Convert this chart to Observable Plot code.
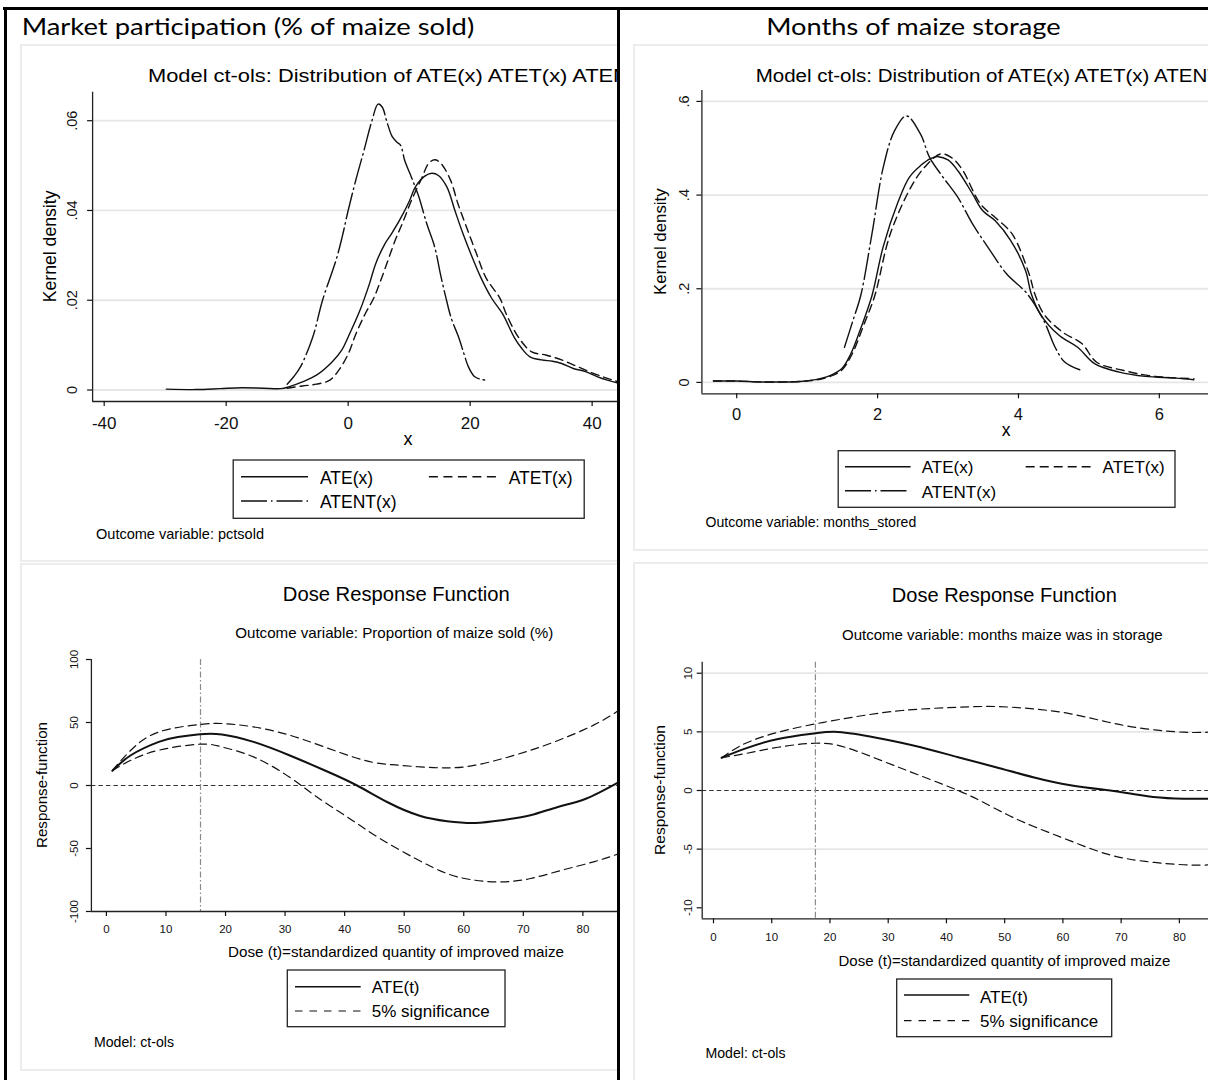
<!DOCTYPE html>
<html><head><meta charset="utf-8">
<script src="https://cdn.jsdelivr.net/npm/d3@7"></script>
<script src="https://cdn.jsdelivr.net/npm/@observablehq/plot@0.6"></script>
<style>
html,body{margin:0;padding:0;background:#fff;}
#page{position:relative;width:1208px;height:1080px;overflow:hidden;background:#fff;}
.col{position:absolute;top:0;height:1080px;overflow:hidden;}
.col svg{max-width:none !important;}
.bar{position:absolute;background:#000;}
</style></head><body><div id="page"></div>
<script>
// ---------- Data: top-left, kernel densities of ATE(x), ATET(x), ATENT(x) for pctsold ----------
const pctATE_x = [-29.8,-25,-21,-17.5,-14,-11,-9.75,-7.5,-5.2,-2.6,-1,0,1.95,3.5,4.5,6,7.1,8.5,10,11,12.5,13.7,14.8,16.2,17.5,18.8,20.2,21.7,23.5,25.3,27.2,28.5,29.8,31.7,33.5,35,36.9,38.9,40.8,42.5,44.4,47,50];
const pctATE_y = [0.0002,0.0001,0.0003,0.0005,0.0004,0.0003,0.0007,0.0018,0.0033,0.0063,0.0090,0.0118,0.0178,0.0237,0.0281,0.0325,0.0348,0.0380,0.0420,0.0452,0.0476,0.0483,0.0478,0.0452,0.0400,0.0349,0.0300,0.0252,0.0205,0.0170,0.0118,0.0092,0.0074,0.0067,0.0064,0.0059,0.0048,0.0041,0.0030,0.0022,0.0015,0.0009,0.0005];
const pctATET_x = [-10,-7.5,-5.2,-3,-1.5,0,1.3,2.8,4.2,5.5,7.7,9,10.3,12,13.2,14.2,15.2,16.8,18,19.4,21,22.6,24.9,25.9,27.9,30.1,32.4,35,37.6,40.2,42.5,44.4,47,50];
const pctATET_y = [0.0004,0.0009,0.0013,0.0022,0.0045,0.0080,0.0126,0.0170,0.0205,0.0250,0.0333,0.0375,0.0420,0.0470,0.0505,0.0513,0.0505,0.0467,0.0415,0.0363,0.0305,0.0250,0.0204,0.0170,0.0118,0.0085,0.0078,0.0067,0.0052,0.0037,0.0026,0.0018,0.0010,0.0005];
const pctATENT_x = [-10,-8.9,-7.8,-5.8,-4.2,-2,-1,0,1.3,2.6,3.9,4.9,5.6,6.3,7.2,8,8.6,9.3,10.2,11,11.6,12.9,14.2,15.1,16,16.9,18.1,19,19.7,20.7,21.7,22.6];
const pctATENT_y = [0.0013,0.003,0.0052,0.0118,0.0200,0.0289,0.034,0.040,0.047,0.0534,0.0600,0.0637,0.0630,0.0600,0.0565,0.0552,0.0545,0.051,0.048,0.0452,0.043,0.037,0.0318,0.026,0.0207,0.016,0.0118,0.008,0.0052,0.003,0.0024,0.0022];
const tlXTicks = [-40,-20,0,20,40], tlXLabels = ["-40","-20","0","20","40"];
const tlYTicks = [0,0.02,0.04,0.06], tlYLabels = ["0",".02",".04",".06"];

// ---------- Data: top-right, kernel densities for months_stored ----------
const msATE_x = [-0.33,0,0.37,0.9,1.12,1.33,1.49,1.62,1.76,1.92,2.08,2.29,2.45,2.61,2.75,2.86,3.0,3.14,3.35,3.49,3.67,3.89,4.10,4.18,4.31,4.58,4.84,5.08,5.43,5.80,6.23,6.49];
const msATE_y = [0.003,0.003,0.001,0.002,0.006,0.015,0.029,0.061,0.115,0.185,0.290,0.385,0.438,0.463,0.478,0.482,0.475,0.452,0.402,0.367,0.345,0.303,0.239,0.190,0.146,0.100,0.075,0.040,0.022,0.0128,0.0092,0.0058];
const msATET_x = [-0.33,0,0.37,0.9,1.12,1.33,1.49,1.63,1.81,1.96,2.18,2.50,2.70,2.90,3.05,3.20,3.46,3.67,3.91,4.15,4.23,4.36,4.63,4.90,5.11,5.48,5.91,6.49];
const msATET_y = [0.003,0.003,0.001,0.002,0.005,0.013,0.026,0.058,0.125,0.185,0.317,0.424,0.465,0.488,0.480,0.455,0.381,0.352,0.317,0.232,0.190,0.146,0.107,0.083,0.043,0.026,0.0134,0.0079];
const msATENT_x = [1.53,1.65,1.76,1.92,2.08,2.24,2.41,2.61,2.74,2.93,3.14,3.35,3.57,3.83,4.12,4.36,4.52,4.66,4.87];
const msATENT_y = [0.075,0.132,0.185,0.317,0.459,0.537,0.569,0.530,0.480,0.438,0.395,0.338,0.288,0.232,0.190,0.132,0.075,0.043,0.027];
const trXTicks = [0,2,4,6], trXLabels = ["0","2","4","6"];
const trYTicks = [0,0.2,0.4,0.6], trYLabels = ["0",".2",".4",".6"];

// ---------- Data: bottom-left, dose response (proportion of maize sold) ----------
const drPctATE_t = [1.0,4.1,8.8,12,15.7,19.4,24.7,30.7,36.6,42,47.3,52.6,57.2,61.9,66.5,71.2,75.8,80.5,86.1];
const drPctATE_v = [11.6,24,34.6,38.5,40.7,40.5,34.6,24,12.1,0.2,-13.5,-24.0,-28.3,-29.7,-27.5,-23.6,-17,-10.5,2.9];
const drPctUp_t = [1.0,4.1,8.8,15.7,19.4,24.7,30.7,36.6,43.3,48,52.6,57.2,61.9,68.5,75.2,81.8,86.1];
const drPctUp_v = [12,28,42.5,48.4,49.2,46.5,40,30.6,20,16.5,14.8,14,16.1,24,34.6,47.9,59.8];
const drPctLo_t = [1.0,4.1,8.8,15.7,19.4,24.7,30.7,35.3,40.6,45.9,51.9,57.2,61.9,66.5,71.2,76.5,81.8,86.1];
const drPctLo_v = [12,20,28,32.8,30.6,22.7,6.8,-9,-25.5,-42,-58,-69.9,-75.2,-76.5,-73.8,-67.2,-60.6,-54];
const drPctRef = 15.8;
const blXTicks = [0,10,20,30,40,50,60,70,80], blXLabels = ["0","10","20","30","40","50","60","70","80"];
const blYTicks = [-100,-50,0,50,100], blYLabels = ["-100","-50","0","50","100"];

// ---------- Data: bottom-right, dose response (months in storage) ----------
const drMsATE_t = [1.4,5.3,11.1,17.5,22,29.1,35.6,42,48.5,54.9,61.3,67.8,71,75.5,80.7,84.9];
const drMsATE_v = [2.79,3.55,4.4,4.88,4.97,4.4,3.69,2.84,1.99,1.13,0.45,0.02,-0.22,-0.55,-0.7,-0.71];
const drMsUp_t = [1.4,5.3,11.1,17.5,23.9,32.4,42,48.5,54.9,61.3,67.8,74.2,80.7,84.9];
const drMsUp_v = [2.79,3.98,4.97,5.68,6.25,6.82,7.1,7.16,6.96,6.54,5.82,5.26,4.97,4.97];
const drMsLo_t = [1.4,5.3,11.1,17.5,22.6,29.1,35.6,42,45.9,50.4,54.9,61.3,67.8,74.2,80.7,84.9];
const drMsLo_v = [2.79,3.13,3.69,4.03,3.69,2.5,1.25,0,-0.9,-2.05,-3.05,-4.3,-5.45,-6.05,-6.33,-6.35];
const drMsRef = 17.5;
const brXTicks = [0,10,20,30,40,50,60,70,80], brXLabels = ["0","10","20","30","40","50","60","70","80"];
const brYTicks = [-10,-5,0,5,10], brYLabels = ["-10","-5","0","5","10"];
const brGrid = [-5,5,10];

// ---------- Helpers ----------
const FONT = "'Liberation Sans', Arial, Helvetica, sans-serif";
const TITLEFONT = "Lato, 'Open Sans', sans-serif";
const page = document.getElementById("page");
const rows = (xs, ys) => xs.map((x, i) => ({x, y: ys[i]}));
const lab = (ticks, labels) => { const m = new Map(ticks.map((t, i) => [t, labels[i]])); return d => m.get(d); };
const DASH = "8,5", DASHDOT = "26,4,1.5,4";

function makeCol(left, width) {
  const d = document.createElement("div");
  d.className = "col"; d.style.left = left + "px"; d.style.width = width + "px";
  page.appendChild(d); return d;
}
function put(container, node, left, top) {
  node.style.position = "absolute"; node.style.left = left + "px"; node.style.top = top + "px";
  node.style.maxWidth = "none";
  node.style.width = node.getAttribute("width") + "px";
  node.style.height = node.getAttribute("height") + "px";
  container.appendChild(node);
}
function bar(l, t, w, h) { const d = document.createElement("div"); d.className = "bar";
  Object.assign(d.style, {left: l + "px", top: t + "px", width: w + "px", height: h + "px"}); page.appendChild(d); }

function panel(o) {
  const marks = [
    ...(o.grid ? [Plot.ruleY(o.grid, {stroke: "#e6e6e6", strokeWidth: 1.8})] : []),
    ...o.marks,
    Plot.ruleX([o.xd[0]], {stroke: "#222", strokeWidth: 1.3}),
    Plot.ruleY([o.yd[0]], {stroke: "#222", strokeWidth: 1.3}),
    Plot.axisX({ticks: o.xt, tickFormat: lab(o.xt, o.xl), tickSize: 5, tickPadding: o.xp, fontSize: o.xf, label: null, strokeWidth: 1.2}),
    Plot.axisY({ticks: o.yt, tickFormat: lab(o.yt, o.yl), tickSize: 5, tickPadding: o.yp, tickRotate: -90, fontSize: o.yf, label: null, strokeWidth: 1.2})
  ];
  return Plot.plot({
    width: o.w, height: o.h, marginLeft: o.ml, marginRight: o.mr, marginTop: o.mt, marginBottom: o.mb,
    x: {domain: o.xd}, y: {domain: o.yd},
    style: {fontFamily: FONT, background: "transparent", color: "#111", overflow: "visible"},
    marks
  });
}
const ln = (xs, ys, o = {}) => Plot.line(rows(xs, ys), {x: "x", y: "y", stroke: "#111", strokeWidth: 1.4, curve: "catmull-rom", ...o});

function overlay(container, w) {
  const svg = d3.create("svg").attr("width", w).attr("height", 1080)
    .style("position", "absolute").style("left", "0px").style("top", "0px").style("overflow", "hidden");
  container.appendChild(svg.node()); return svg;
}
function T(svg, s, o) {
  const t = svg.append("text").text(s).attr("font-family", o.family || FONT).attr("font-size", o.size)
    .attr("fill", "#000").attr("text-anchor", o.anchor || "start");
  if (o.len) t.attr("textLength", o.len).attr("lengthAdjust", "spacingAndGlyphs");
  if (o.rotate) t.attr("transform", `translate(${o.x},${o.y}) rotate(${o.rotate})`);
  else t.attr("x", o.x).attr("y", o.y);
  return t;
}
function frame(svg, x, y, w, h) { svg.append("rect").attr("x", x).attr("y", y).attr("width", w).attr("height", h)
  .attr("fill", "none").attr("stroke", "#ececec").attr("stroke-width", 2); }
function box(svg, x0, y0, x1, y1) { svg.append("rect").attr("x", x0).attr("y", y0).attr("width", x1 - x0).attr("height", y1 - y0)
  .attr("fill", "none").attr("stroke", "#222").attr("stroke-width", 1.3); }
function sample(svg, x0, x1, y, dash, w = 1.4) { const l = svg.append("line").attr("x1", x0).attr("x2", x1).attr("y1", y).attr("y2", y)
  .attr("stroke", "#111").attr("stroke-width", w); if (dash) l.attr("stroke-dasharray", dash); }

// ---------- Columns ----------
const colL = makeCol(0, 617), colR = makeCol(620, 588);

// Top-left plot
put(colL, panel({
  w: 740, h: 400, ml: 92.1, mr: 16, mt: 46.7, mb: 44,
  xd: [-41.9, 61.7], yd: [-0.00256, 0.06635], grid: tlYTicks,
  xt: tlXTicks, xl: tlXLabels, xp: 10.6, xf: 17,
  yt: tlYTicks, yl: tlYLabels, yp: 11.1, yf: 14.5,
  marks: [
    ln(pctATE_x, pctATE_y),
    ln(pctATET_x, pctATET_y, {strokeDasharray: DASH}),
    ln(pctATENT_x, pctATENT_y, {strokeDasharray: DASHDOT})
  ]
}), 0, 45);

// Bottom-left plot
put(colL, panel({
  w: 720, h: 300, ml: 90.9, mr: 20.3, mt: 14, mb: 34,
  xd: [-2.52, 99.7], yd: [-100, 100],
  xt: blXTicks, xl: blXLabels, xp: 8.2, xf: 11.5,
  yt: blYTicks, yl: blYLabels, yp: 8.5, yf: 11.5,
  marks: [
    Plot.ruleY([0], {stroke: "#333", strokeWidth: 1.1, strokeDasharray: "4.5,3"}),
    Plot.ruleX([drPctRef], {stroke: "#8a8a8a", strokeWidth: 1.2, strokeDasharray: "6,2.5,1.5,2.5"}),
    ln(drPctUp_t, drPctUp_v, {strokeWidth: 1.2, strokeDasharray: DASH, curve: "natural"}),
    ln(drPctLo_t, drPctLo_v, {strokeWidth: 1.2, strokeDasharray: DASH, curve: "natural"}),
    ln(drPctATE_t, drPctATE_v, {strokeWidth: 2, curve: "natural"})
  ]
}), 0, 645);

// Top-right plot
put(colR, panel({
  w: 720, h: 400, ml: 81.4, mr: 29, mt: 45, mb: 51.7,
  xd: [-0.494, 8.16], yd: [-0.0243, 0.6233], grid: trYTicks,
  xt: trXTicks, xl: trXLabels, xp: 9.1, xf: 16.5,
  yt: trYTicks, yl: trYLabels, yp: 7.6, yf: 14.5,
  marks: [
    ln(msATE_x, msATE_y),
    ln(msATET_x, msATET_y, {strokeDasharray: DASH}),
    ln(msATENT_x, msATENT_y, {strokeDasharray: DASHDOT})
  ]
}), 0, 45);

// Bottom-right plot
put(colR, panel({
  w: 700, h: 300, ml: 81.7, mr: 13, mt: 16.7, mb: 26.7,
  xd: [-1.94, 102], yd: [-10.94, 10.94], grid: brGrid,
  xt: brXTicks, xl: brXLabels, xp: 9.3, xf: 11.5,
  yt: brYTicks, yl: brYLabels, yp: 5.1, yf: 11.5,
  marks: [
    Plot.ruleY([0], {stroke: "#333", strokeWidth: 1.1, strokeDasharray: "4.5,3"}),
    Plot.ruleX([drMsRef], {stroke: "#8a8a8a", strokeWidth: 1.2, strokeDasharray: "6,2.5,1.5,2.5"}),
    ln(drMsUp_t, drMsUp_v, {strokeWidth: 1.2, strokeDasharray: DASH, curve: "natural"}),
    ln(drMsLo_t, drMsLo_v, {strokeWidth: 1.2, strokeDasharray: DASH, curve: "natural"}),
    ln(drMsATE_t, drMsATE_v, {strokeWidth: 2, curve: "natural"})
  ]
}), 0, 645);

// ---------- Left column texts, frames, legends ----------
const oL = overlay(colL, 617);
frame(oL, 21, 45, 800, 516);
frame(oL, 21, 564, 800, 506);
T(oL, "Market participation (% of maize sold)", {x: 21.7, y: 35, size: 24, family: TITLEFONT, len: 452.6});
T(oL, "Model ct-ols: Distribution of ATE(x) ATET(x) ATENT(x)", {x: 148, y: 82, size: 18.5, len: 519.7});
T(oL, "Kernel density", {x: 56, y: 246.4, rotate: -90, anchor: "middle", size: 17.5, len: 111.7});
T(oL, "x", {x: 408, y: 445.4, anchor: "middle", size: 18});
box(oL, 233.2, 460, 584.2, 518.3);
sample(oL, 241, 308, 476.7, null);
sample(oL, 428.9, 496, 476.7, "9,5.5");
sample(oL, 241, 308, 501, DASHDOT);
T(oL, "ATE(x)", {x: 320, y: 484, size: 17.5});
T(oL, "ATET(x)", {x: 508.7, y: 484, size: 17.5});
T(oL, "ATENT(x)", {x: 320, y: 508, size: 17.5});
T(oL, "Outcome variable: pctsold", {x: 96, y: 539.3, size: 14.5, len: 168});

T(oL, "Dose Response Function", {x: 396.3, y: 600.7, anchor: "middle", size: 19.6, len: 227});
T(oL, "Outcome variable: Proportion of maize sold (%)", {x: 394.2, y: 638.3, anchor: "middle", size: 15, len: 318});
T(oL, "Response-function", {x: 47, y: 785, rotate: -90, anchor: "middle", size: 15, len: 126});
T(oL, "Dose (t)=standardized quantity of improved maize", {x: 396, y: 956.7, anchor: "middle", size: 15, len: 336});
box(oL, 287.3, 970, 505, 1026.7);
sample(oL, 295, 360.7, 986.7, null, 1.6);
sample(oL, 295, 360.7, 1011, "7.5,7", 1.2);
T(oL, "ATE(t)", {x: 371.7, y: 993.3, size: 17});
T(oL, "5% significance", {x: 371.7, y: 1016.7, size: 17});
T(oL, "Model: ct-ols", {x: 94, y: 1047.3, size: 14, len: 80});

// ---------- Right column texts, frames, legends ----------
const oR = overlay(colR, 588);
frame(oR, 14, 45, 800, 505);
frame(oR, 14, 563, 800, 600);
T(oR, "Months of maize storage", {x: 146.2, y: 35, size: 24, family: TITLEFONT, len: 294.4});
T(oR, "Model ct-ols: Distribution of ATE(x) ATET(x) ATENT(x)", {x: 135.7, y: 81.7, size: 18, len: 488});
T(oR, "Kernel density", {x: 46, y: 241.7, rotate: -90, anchor: "middle", size: 16.8, len: 106.7});
T(oR, "x", {x: 386.2, y: 436.2, anchor: "middle", size: 17.5});
box(oR, 218.2, 450.7, 555, 507.3);
sample(oR, 225, 290.6, 466.7, null);
sample(oR, 405.7, 470.6, 466.7, "9,5");
sample(oR, 225, 290.6, 490.7, DASHDOT);
T(oR, "ATE(x)", {x: 301.8, y: 473.3, size: 17});
T(oR, "ATET(x)", {x: 482.6, y: 473.3, size: 17});
T(oR, "ATENT(x)", {x: 301.8, y: 498, size: 17});
T(oR, "Outcome variable: months_stored", {x: 85.5, y: 527.3, size: 14, len: 210.7});

T(oR, "Dose Response Function", {x: 384.3, y: 601.7, anchor: "middle", size: 20, len: 225});
T(oR, "Outcome variable: months maize was in storage", {x: 382.3, y: 640, anchor: "middle", size: 15, len: 320.6});
T(oR, "Response-function", {x: 44.5, y: 790, rotate: -90, anchor: "middle", size: 15.5, len: 130});
T(oR, "Dose (t)=standardized quantity of improved maize", {x: 384.4, y: 965.7, anchor: "middle", size: 15, len: 331.8});
box(oR, 276.7, 979, 491.7, 1036.7);
sample(oR, 284, 349.3, 995, null, 1.6);
sample(oR, 284, 349.3, 1020.7, "7.5,7", 1.2);
T(oR, "ATE(t)", {x: 360, y: 1002.7, size: 17});
T(oR, "5% significance", {x: 360, y: 1026.7, size: 17});
T(oR, "Model: ct-ols", {x: 85.5, y: 1058, size: 14, len: 80});

// ---------- Black outer border and divider ----------
bar(3, 7, 1205, 3);
bar(4, 7, 3, 1073);
bar(617, 7, 3, 1073);
</script></body></html>
